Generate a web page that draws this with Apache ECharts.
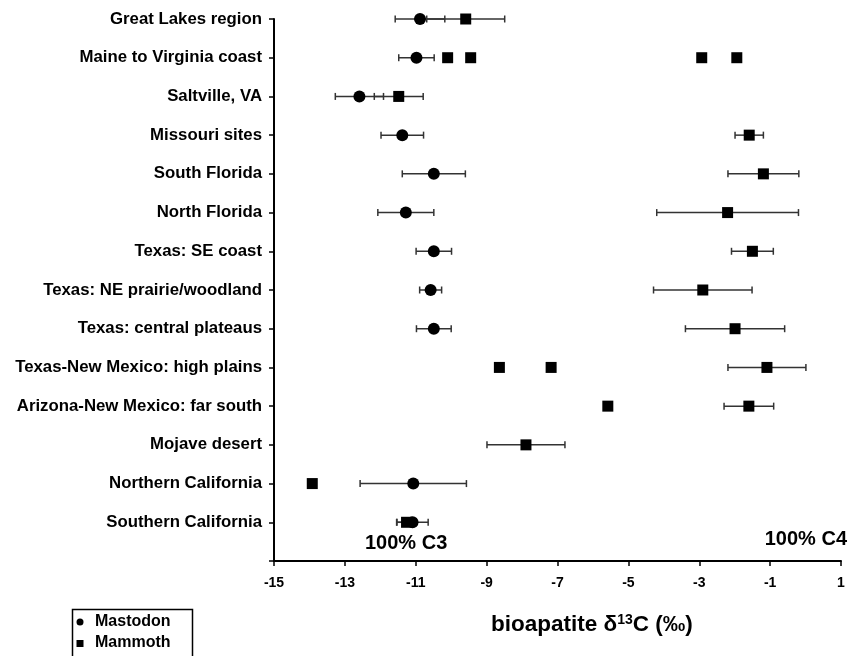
<!DOCTYPE html>
<html><head><meta charset="utf-8">
<script src="https://cdn.jsdelivr.net/npm/echarts@6/dist/echarts.min.js"></script>
<style>html,body{margin:0;padding:0;background:#fff}#c{width:848px;height:656px}</style>
</head><body><div id="c"></div>
<script>
const categories = [
  'Great Lakes region', 'Maine to Virginia coast', 'Saltville, VA', 'Missouri sites',
  'South Florida', 'North Florida', 'Texas: SE coast', 'Texas: NE prairie/woodland',
  'Texas: central plateaus', 'Texas-New Mexico: high plains', 'Arizona-New Mexico: far south',
  'Mojave desert', 'Northern California', 'Southern California'
];
const seriesNames = ['Mastodon', 'Mammoth'];
// Mastodon: row index, mean, error (±)
const mastodonRow  = [0, 1, 2, 3, 4, 5, 6, 7, 8, 12, 13];
const mastodonMean = [-10.88, -10.98, -12.59, -11.38, -10.49, -11.28, -10.49, -10.58, -10.49, -11.07, -11.09];
const mastodonErr  = [0.70, 0.50, 0.68, 0.60, 0.89, 0.79, 0.50, 0.31, 0.49, 1.50, 0.44];
// Mammoth: row index, mean, error (±, 0 = none)
const mammothRow  = [0, 1, 1, 1, 1, 2, 3, 4, 5, 6, 7, 8, 9, 9, 9, 10, 10, 11, 12, 13];
const mammothMean = [-9.59, -10.10, -9.45, -2.93, -1.94, -11.48, -1.59, -1.19, -2.20, -1.50, -2.90, -1.99, -8.64, -7.18, -1.09, -5.58, -1.60, -7.89, -13.92, -11.26];
const mammothErr  = [1.10, 0, 0, 0, 0, 0.69, 0.40, 1.00, 2.00, 0.59, 1.39, 1.40, 0, 0, 1.10, 0, 0.70, 1.10, 0, 0.28];

const FONT = 'Liberation Sans, Arial, sans-serif';
const mastodonData = mastodonRow.map((r, i) => [mastodonMean[i], r, mastodonErr[i]]);
const mammothData = mammothRow.map((r, i) => [mammothMean[i], r, mammothErr[i]]);

function errRender(params, api) {
  const m = api.value(0), y = api.value(1), e = api.value(2);
  if (!e) return null;
  const p1 = api.coord([m - e, y]), p2 = api.coord([m + e, y]);
  const h = 3.5;
  const st = { stroke: '#333', lineWidth: 1.5 };
  return { type: 'group', children: [
    { type: 'line', shape: { x1: p1[0], y1: p1[1], x2: p2[0], y2: p2[1] }, style: st },
    { type: 'line', shape: { x1: p1[0], y1: p1[1] - h, x2: p1[0], y2: p1[1] + h }, style: st },
    { type: 'line', shape: { x1: p2[0], y1: p2[1] - h, x2: p2[0], y2: p2[1] + h }, style: st }
  ]};
}

const chart = echarts.init(document.getElementById('c'), null, { renderer: 'canvas' });
chart.setOption({
  animation: false,
  backgroundColor: '#fff',
  grid: { left: 274, right: 7, top: 19, bottom: 95, containLabel: false },
  xAxis: {
    type: 'value', min: -15, max: 1, interval: 2,
    axisLine: { show: true, onZero: false, lineStyle: { color: '#000', width: 2 } },
    axisTick: { show: true, length: 5, lineStyle: { color: '#000', width: 1.5 } },
    axisLabel: { fontFamily: FONT, fontWeight: 'bold', fontSize: 14, color: '#000', margin: 15 },
    splitLine: { show: false }
  },
  yAxis: {
    type: 'value', min: 0, max: 14, interval: 1, inverse: true,
    axisLine: { show: true, onZero: false, lineStyle: { color: '#000', width: 2 } },
    axisTick: { show: true, length: 5, lineStyle: { color: '#000', width: 1.5 } },
    axisLabel: { fontFamily: FONT, fontWeight: 'bold', fontSize: 16.8, color: '#000', margin: 12,
      formatter: v => categories[v] || '' },
    splitLine: { show: false }
  },
  graphic: [
    { type: 'text', left: 365, top: 533, style: { text: '100% C3', font: 'bold 20px ' + FONT, fill: '#000' } },
    { type: 'text', right: 1, top: 529, style: { text: '100% C4', font: 'bold 20px ' + FONT, fill: '#000' } },
    { type: 'text', left: 491, top: 613, style: {
      text: '{a|bioapatite δ}{s|13}{a|C (‰)}',
      rich: {
        a: { fontFamily: FONT, fontWeight: 'bold', fontSize: 22.5, fill: '#000', color: '#000' },
        s: { fontFamily: FONT, fontWeight: 'bold', fontSize: 14, fill: '#000', color: '#000', padding: [0, 0, 10, 0] }
      }
    } },
    // legend box
    { type: 'rect', left: 70, top: 607, shape: { width: 120, height: 60 },
      style: { fill: 'none', stroke: '#000', lineWidth: 1.5 } },
    { type: 'circle', shape: { cx: 80, cy: 622, r: 3.5 }, style: { fill: '#000' } },
    { type: 'rect', shape: { x: 76.5, y: 640, width: 7, height: 7 }, style: { fill: '#000' } },
    { type: 'text', left: 95, top: 614, style: { text: seriesNames[0], font: 'bold 16px ' + FONT, fill: '#000' } },
    { type: 'text', left: 95, top: 635, style: { text: seriesNames[1], font: 'bold 16px ' + FONT, fill: '#000' } }
  ],
  series: [
    { type: 'custom', name: 'MastodonErr', renderItem: errRender, data: mastodonData, z: 1,
      encode: { x: 0, y: 1 } },
    { type: 'custom', name: 'MammothErr', renderItem: errRender, data: mammothData, z: 1,
      encode: { x: 0, y: 1 } },
    { type: 'scatter', name: seriesNames[0], symbol: 'circle', symbolSize: 12, z: 3,
      itemStyle: { color: '#000', opacity: 1 }, data: mastodonData.map(d => [d[0], d[1]]) },
    { type: 'scatter', name: seriesNames[1], symbol: 'rect', symbolSize: 11, z: 3,
      itemStyle: { color: '#000', opacity: 1 }, data: mammothData.map(d => [d[0], d[1]]) }
  ]
});
</script>
</body></html>
